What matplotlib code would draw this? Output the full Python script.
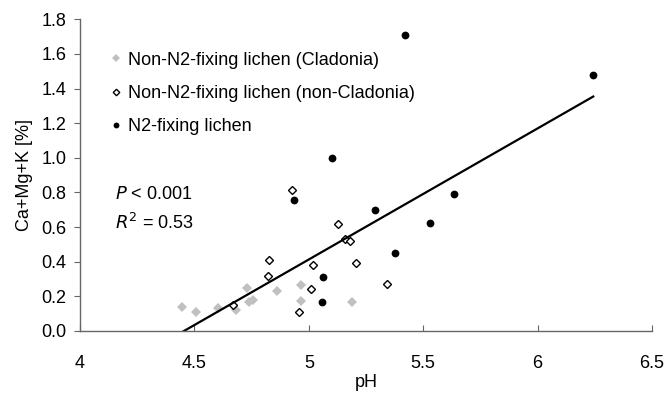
import numpy as np
import matplotlib.pyplot as plt

plt.rcParams['font.family'] = ['Liberation Sans', 'DejaVu Sans']
plt.rcParams['font.size'] = 13

# Non-N2-fixing lichen (Cladonia)
clad_ph = [4.444, 4.507, 4.605, 4.680, 4.729, 4.740, 4.757, 4.859, 4.966, 4.966, 5.190]
clad_y = [0.136, 0.109, 0.132, 0.120, 0.249, 0.165, 0.180, 0.232, 0.263, 0.174, 0.166]

# Non-N2-fixing lichen (non-Cladonia)
nonclad_ph = [4.670, 4.820, 4.826, 4.927, 4.959, 5.010, 5.017, 5.129, 5.160, 5.180, 5.206, 5.340]
nonclad_y = [0.150, 0.317, 0.409, 0.817, 0.110, 0.240, 0.380, 0.617, 0.530, 0.520, 0.390, 0.269]

# N2-fixing lichen
fix_ph = [4.935, 5.059, 5.062, 5.103, 5.288, 5.377, 5.420, 5.528, 5.635, 6.243]
fix_y = [0.756, 0.170, 0.311, 1.000, 0.696, 0.451, 1.710, 0.621, 0.791, 1.478]

# linear trend (all groups pooled)
slope = 0.757
intercept = -3.372

fig = plt.figure(figsize=(6.68, 3.93), dpi=100)
ax = fig.add_axes([0.1198, 0.1578, 0.8563, 0.7931])

ax.plot(clad_ph, clad_y, 'D', color='#c0c0c0', markersize=5.2, markeredgewidth=0,
        label='Non-N2-fixing lichen (Cladonia)')
ax.plot(nonclad_ph, nonclad_y, 'D', markerfacecolor='white', markeredgecolor='black',
        markersize=4.4, markeredgewidth=1.0, label='Non-N2-fixing lichen (non-Cladonia)')
ax.plot(fix_ph, fix_y, 'o', color='black', markersize=5.6, markeredgewidth=0,
        label='N2-fixing lichen')

all_ph = np.array(clad_ph + nonclad_ph + fix_ph)
xs = np.array([all_ph.min(), all_ph.max()])
ax.plot(xs, slope * xs + intercept, color='black', linewidth=1.6)

ax.set_xlim(4, 6.5)
ax.set_ylim(0, 1.8)
ax.set_xticks(np.arange(4, 6.51, 0.5))
ax.set_xticklabels(['4', '4.5', '5', '5.5', '6', '6.5'])
ax.set_yticks(np.arange(0, 1.81, 0.2))
ax.set_yticklabels(['%.1f' % v for v in np.arange(0, 1.81, 0.2)])

for s in ['top', 'right']:
    ax.spines[s].set_visible(False)
for s in ['left', 'bottom']:
    ax.spines[s].set_color('#666666')
    ax.spines[s].set_linewidth(1.0)
ax.tick_params(axis='x', direction='in', length=4, pad=17, color='#666666')
ax.tick_params(axis='y', direction='out', length=4, pad=6, color='#666666')

ax.set_xlabel('pH', labelpad=2)
ax.set_ylabel('Ca+Mg+K [%]', labelpad=6)

ax.legend(loc='upper left', bbox_to_anchor=(0.0498, 0.896), frameon=False, markerscale=0.75,
          handlelength=0.8, handletextpad=0.27, labelspacing=0.9,
          borderaxespad=0, borderpad=0)

ax.text(0.061, 0.437, r'$\it{P}$ < 0.001', transform=ax.transAxes, va='center')
ax.text(0.061, 0.347, r'$\it{R}^{\rm 2}$ = 0.53', transform=ax.transAxes, va='center')

fig.savefig('out.png', dpi=100)
